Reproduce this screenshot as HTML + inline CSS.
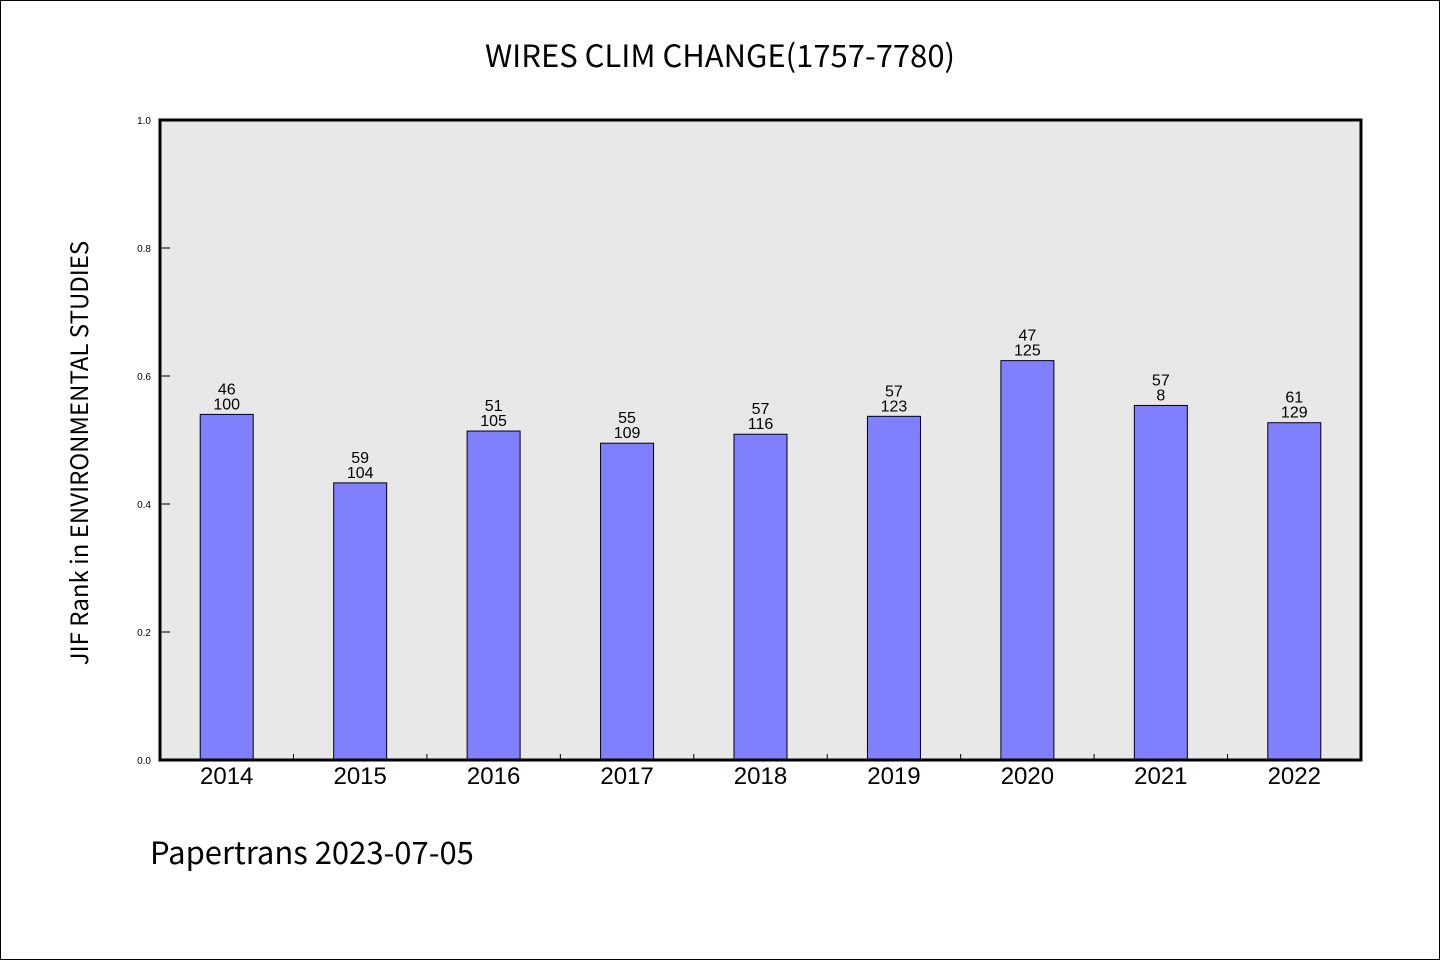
<!DOCTYPE html>
<html><head><meta charset="utf-8"><style>
body{margin:0;background:#fff}
svg{display:block}
.cjk{font-family:"WenQuanYi Zen Hei","Noto Sans CJK SC",sans-serif}
.lat{font-family:"Liberation Sans",sans-serif}
</style></head><body>
<svg id="chart" width="1440" height="960" xmlns="http://www.w3.org/2000/svg">
<rect x="0.5" y="0.5" width="1439" height="959" fill="#fff" stroke="#000"/>
<text x="720" y="67" text-anchor="middle" font-size="31" class="cjk">WIRES CLIM CHANGE(1757-7780)</text>
<rect x="160" y="120" width="1201" height="640" fill="#e8e8e8"/>
<g id="bars"></g>
<g id="ticks"></g>
<rect x="160" y="120" width="1201" height="640" fill="none" stroke="#000" stroke-width="3"/>
<text transform="translate(88,453) rotate(-90)" text-anchor="middle" font-size="24" class="cjk">JIF Rank in ENVIRONMENTAL STUDIES</text>
<text x="150" y="864" font-size="31" class="cjk">Papertrans 2023-07-05</text>
</svg>
<script>
const categories=["2014","2015","2016","2017","2018","2019","2020","2021","2022"];
const values=[0.54,0.433,0.514,0.495,0.509,0.537,0.624,0.554,0.527];
const ranks=["46","59","51","55","57","57","47","57","61"];
const totals=["100","104","105","109","116","123","125","8","129"];
const yTicks=[0,0.2,0.4,0.6,0.8,1.0];
const X0=160,W=1201,Y0=760,H=640;
const bw=W/categories.length;
const x=i=>X0+bw*(i+0.5);
const y=v=>Y0-v*H;
const NS="http://www.w3.org/2000/svg";
const gb=document.getElementById('bars'),gt=document.getElementById('ticks');
function mk(tag,attrs,parent,txt){const e=document.createElementNS(NS,tag);for(const k in attrs)e.setAttribute(k,attrs[k]);if(txt!==undefined)e.textContent=txt;parent.appendChild(e);return e;}
categories.forEach((c,i)=>{
 const r=mk('rect',{x:x(i)-26.5,y:y(values[i]),width:53,height:Y0-y(values[i]),fill:'#8080ff',stroke:'#000','stroke-width':1},gb);
 
 
 const t1=mk('text',{x:x(i),y:y(values[i])-20,'text-anchor':'middle','font-size':16,class:'lat'},gb,ranks[i]);
 
 
 const t2=mk('text',{x:x(i),y:y(values[i])-5,'text-anchor':'middle','font-size':16,class:'lat'},gb,totals[i]);
 
 
 const xl=mk('text',{x:x(i),y:784,'text-anchor':'middle','font-size':24,class:'lat'},gt,c);
 
 
 if(i>0){
  const tk=mk('line',{x1:X0+bw*i,x2:X0+bw*i,y1:Y0,y2:Y0-6,stroke:'#000'},gt);
  
  
 }
});
yTicks.forEach(v=>{
 const tk=mk('line',{x1:X0,x2:X0+10,y1:y(v),y2:y(v),stroke:'#000'},gt);
 
 
 const tl=mk('text',{x:151,y:y(v)+4,'text-anchor':'end','font-size':10,class:'lat'},gt,v.toFixed(1));
 
 
});
</script>
</body></html>
